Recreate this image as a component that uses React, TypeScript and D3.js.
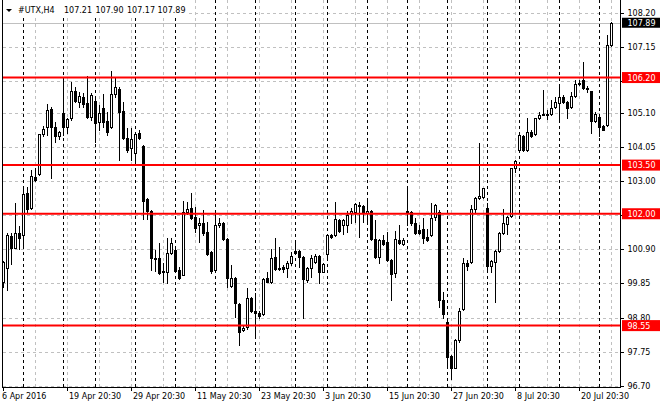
import React from 'react';
import * as d3 from 'd3';

// #UTX H4 bars, 6 Apr 2016 20:30 .. 26 Jul 2016
const opens: number[] = [
  99.90, 100.32, 101.31, 100.95, 101.40, 101.34, 102.63, 102.17, 103.12, 103.22,
  104.45, 104.66, 105.22, 104.66, 104.41, 105.10, 104.66, 104.94, 105.78, 105.45,
  105.59, 105.42, 104.99, 105.48, 104.84, 105.27, 104.86, 104.66, 105.68, 105.85,
  105.17, 104.34, 104.02, 103.86, 104.48, 104.09, 102.45, 102.08, 100.64, 100.63,
  100.23, 100.21, 100.78, 100.88, 100.26, 100.11, 102.04, 102.17, 101.90, 101.64,
  101.70, 101.44, 100.83, 100.26, 101.64, 101.70, 101.21, 99.78, 100.01, 99.21,
  98.41, 98.50, 99.39, 99.01, 98.95, 98.90, 100.01, 99.90, 100.68, 100.34,
  100.35, 100.34, 100.49, 100.85, 100.85, 100.67, 99.96, 100.32, 100.52, 100.70,
  100.21, 100.75, 101.34, 101.33, 101.81, 101.65, 101.65, 102.03, 102.06, 102.27,
  102.24, 102.03, 102.09, 101.21, 100.67, 101.19, 101.14, 100.57, 100.16, 101.19,
  101.07, 102.08, 102.06, 101.70, 101.50, 101.52, 101.29, 101.34, 101.91, 102.06,
  99.34, 98.67, 97.61, 97.25, 98.11, 99.05, 100.47, 100.52, 102.14, 102.48,
  102.52, 102.17, 100.40, 100.50, 100.85, 101.40, 101.67, 101.94, 103.40, 103.97,
  104.40, 103.97, 104.53, 104.45, 104.94, 105.08, 105.08, 105.07, 105.28, 105.40,
  105.59, 105.44, 105.30, 105.63, 106.04, 106.12, 105.89, 105.78, 104.86, 104.99,
  104.70, 104.73, 107.21,
];
const highs: number[] = [
  100.55, 101.40, 101.40, 102.34, 101.62, 102.78, 102.83, 103.35, 103.40, 104.47,
  104.70, 105.37, 105.30, 104.84, 104.56, 106.18, 104.95, 106.07, 105.92, 105.76,
  105.71, 106.25, 105.71, 105.56, 105.35, 105.69, 105.15, 106.41, 106.18, 105.92,
  105.45, 104.63, 104.63, 104.53, 104.58, 104.12, 102.50, 102.10, 100.88, 101.09,
  100.47, 101.24, 101.24, 100.92, 100.37, 102.40, 102.36, 102.63, 102.20, 101.86,
  102.12, 101.75, 100.86, 102.01, 101.86, 101.75, 101.25, 100.42, 100.05, 99.25,
  98.54, 99.70, 99.43, 99.55, 99.00, 100.03, 100.21, 100.90, 101.24, 100.98,
  100.42, 100.55, 100.83, 101.14, 100.88, 100.70, 100.37, 100.73, 100.76, 100.74,
  100.49, 101.36, 101.37, 102.37, 101.83, 101.85, 102.09, 102.17, 102.32, 102.37,
  102.27, 102.42, 102.11, 101.81, 101.22, 101.34, 101.45, 100.60, 101.47, 101.65,
  101.24, 102.83, 102.08, 101.86, 101.65, 101.86, 101.52, 102.32, 102.29, 102.10,
  99.59, 98.70, 97.64, 98.13, 99.08, 100.63, 100.57, 102.27, 102.53, 104.17,
  102.80, 102.32, 100.58, 100.88, 101.44, 102.14, 101.93, 103.42, 103.66, 104.45,
  104.43, 104.94, 104.58, 104.96, 105.15, 105.82, 105.20, 105.51, 105.61, 105.92,
  105.66, 105.47, 105.76, 106.12, 106.12, 106.69, 105.95, 105.80, 105.15, 105.02,
  104.74, 107.51, 107.90,
];
const lows: number[] = [
  99.75, 99.65, 100.45, 100.93, 100.91, 101.03, 102.06, 102.15, 103.00, 103.20,
  104.40, 104.43, 103.09, 104.22, 104.32, 104.43, 104.48, 104.90, 105.45, 105.30,
  105.28, 104.94, 104.89, 104.20, 104.58, 104.68, 104.43, 104.65, 105.61, 103.66,
  104.32, 103.91, 103.66, 103.50, 104.30, 101.84, 101.84, 100.26, 100.24, 100.15,
  99.90, 99.85, 100.75, 100.20, 100.00, 100.10, 101.99, 101.85, 101.44, 101.14,
  101.34, 100.73, 100.18, 100.20, 101.60, 101.18, 99.75, 99.75, 98.82, 97.95,
  98.37, 98.46, 98.97, 98.21, 98.80, 98.87, 99.89, 99.85, 100.26, 100.27,
  100.21, 100.06, 100.42, 100.78, 100.37, 98.77, 99.90, 100.06, 100.48, 99.87,
  100.20, 100.67, 101.26, 101.30, 101.43, 101.37, 101.45, 101.70, 101.75, 101.29,
  101.75, 101.75, 101.19, 100.65, 100.49, 101.03, 100.54, 99.34, 100.06, 101.06,
  101.03, 101.65, 101.65, 101.38, 101.38, 101.11, 101.16, 101.31, 101.81, 99.13,
  98.77, 97.34, 96.89, 97.24, 98.05, 99.02, 100.26, 100.49, 102.06, 102.46,
  102.49, 100.26, 100.19, 99.29, 100.81, 101.37, 101.37, 101.91, 103.30, 103.93,
  103.93, 103.93, 104.38, 104.43, 104.92, 105.03, 104.92, 105.04, 105.25, 104.89,
  105.40, 104.96, 105.27, 105.61, 105.97, 105.84, 105.74, 104.48, 104.84, 104.41,
  104.57, 104.70, 107.17,
];
const closes: number[] = [
  100.52, 101.34, 100.93, 101.40, 101.26, 102.61, 102.15, 103.16, 103.04, 104.45,
  104.60, 105.20, 104.66, 104.41, 104.51, 104.66, 104.92, 105.78, 105.49, 105.63,
  105.37, 104.99, 105.66, 104.81, 105.10, 104.84, 104.53, 105.69, 105.90, 105.15,
  104.34, 103.96, 104.30, 104.45, 104.34, 102.39, 102.08, 100.63, 100.59, 100.18,
  100.20, 100.78, 101.09, 100.24, 100.03, 102.06, 102.14, 101.88, 101.56, 101.71,
  101.41, 100.76, 100.22, 101.65, 101.72, 101.21, 100.01, 100.01, 99.24, 98.36,
  98.49, 99.39, 99.01, 98.95, 98.85, 99.99, 99.90, 100.63, 100.29, 100.31,
  100.31, 100.49, 100.70, 100.80, 100.67, 99.98, 100.32, 100.63, 100.70, 100.21,
  100.45, 101.34, 101.29, 101.83, 101.48, 101.81, 101.96, 102.09, 102.29, 102.24,
  102.01, 102.08, 101.21, 100.67, 101.19, 101.07, 100.57, 100.14, 101.21, 101.09,
  101.19, 102.01, 101.70, 101.41, 101.41, 101.24, 101.19, 101.86, 102.27, 99.34,
  98.91, 97.59, 97.23, 98.11, 99.00, 100.47, 100.40, 102.15, 102.48, 102.55,
  102.78, 100.40, 100.54, 100.85, 101.41, 101.70, 101.89, 103.40, 103.63, 104.43,
  103.97, 104.51, 104.41, 104.94, 105.05, 105.05, 105.05, 105.27, 105.44, 105.59,
  105.44, 105.27, 105.63, 106.00, 105.99, 105.87, 105.85, 104.86, 105.07, 104.68,
  104.58, 107.20, 107.89,
];

// bar index where each week begins (period separators)
const weekStarts: number[] = [5, 15, 23, 33, 43, 53, 63, 73, 81, 91, 101, 111, 121, 129, 139, 149];

const timeLabels: string[] = [
  '6 Apr 2016', '19 Apr 20:30', '29 Apr 20:30', '11 May 20:30', '23 May 20:30',
  '3 Jun 20:30', '15 Jun 20:30', '27 Jun 20:30', '8 Jul 20:30', '20 Jul 20:30',
];
const timeLabelBars: number[] = [0, 16, 32, 48, 64, 80, 96, 112, 128, 144];

const priceTicks: string[] = [
  '108.20', '107.15', '106.10', '105.10', '104.05', '103.00',
  '101.95', '100.90', '99.85', '98.80', '97.75', '96.70',
];

const levels: number[] = [106.2, 103.5, 102.0, 98.55];
const bid = 107.89;
const header: string[] = ['#UTX,H4', '107.21', '107.90', '107.17', '107.89'];

const W = 660;
const H = 410;
const plotRight = 620;
const plotBottom = 387;

const App = () => {
  const n = opens.length;
  const x = d3.scaleLinear().domain([0, n - 1]).range([3.5, 3.5 + 4 * (n - 1)]);
  const y = d3.scaleLinear().domain([96.7, 108.2]).range([385.6, 12.7]);
  const ry = (v: number) => Math.round(y(v));
  const gridBars = d3.range(8, n, 8);
  // tick texts sitting under a level label are covered, only the grid line stays
  const covered = (t: string) => levels.some((l) => Math.abs(y(l) - y(+t)) < 6);

  return (
    <svg
      width={W}
      height={H}
      style={{ position: 'absolute', left: 0, top: 0, background: '#fff' }}
      fontFamily="'DejaVu Sans', Tahoma, sans-serif"
      fontSize={8}
    >
      <rect width={W} height={H} fill="#fff" />

      {/* grid */}
      <g stroke="#c0c0c0" strokeDasharray="3,3" strokeWidth={1}>
        {priceTicks.map((t) => (
          <line key={t} x1={3} x2={plotRight} y1={ry(+t) + 0.5} y2={ry(+t) + 0.5} />
        ))}
        {gridBars.map((b) => (
          <line key={b} x1={x(b)} x2={x(b)} y1={0} y2={plotBottom} />
        ))}
      </g>
      <g stroke="#000" strokeDasharray="3,3" strokeWidth={1}>
        {weekStarts.map((b) => (
          <line key={b} x1={x(b)} x2={x(b)} y1={0} y2={plotBottom} />
        ))}
      </g>

      {/* bid line */}
      <line x1={3} x2={plotRight} y1={ry(bid) + 0.5} y2={ry(bid) + 0.5} stroke="#c0c0c0" />

      {/* candles */}
      <g>
        {opens.map((o, i) => {
          const c = closes[i];
          const cx = x(i);
          const top = ry(Math.max(o, c));
          const bot = ry(Math.min(o, c));
          const up = c > o;
          return (
            <g key={i}>
              <line x1={cx} x2={cx} y1={ry(highs[i])} y2={ry(lows[i]) + 1} stroke="#000" />
              {up && bot - top >= 2 ? (
                <rect x={cx - 1} y={top + 0.5} width={2} height={bot - top} fill="#fff" stroke="#000" />
              ) : (
                <rect x={cx - 1.5} y={top} width={3} height={Math.max(1, bot - top + 1)} fill="#000" />
              )}
            </g>
          );
        })}
      </g>

      {/* horizontal levels */}
      <g>
        {levels.map((l) => (
          <line key={l} x1={2} x2={plotRight} y1={y(l)} y2={y(l)} stroke="#ff0000" strokeWidth={2} />
        ))}
      </g>

      {/* header */}
      <rect x={3} y={0} width={186} height={15} fill="#fff" />
      <polygon points="6,9 12,9 9,12" fill="#000" />
      {header.map((h, k) => (
        <text key={k} x={[18, 64, 95.5, 127, 157.5][k]} y={13} fill="#000">
          {h}
        </text>
      ))}

      {/* frame */}
      <g stroke="#000" strokeWidth={1}>
        <line x1={2.5} x2={2.5} y1={0} y2={plotBottom + 1} />
        <line x1={plotRight + 0.5} x2={plotRight + 0.5} y1={0} y2={plotBottom + 1} />
        <line x1={2} x2={plotRight + 1} y1={plotBottom + 0.5} y2={plotBottom + 0.5} />
      </g>

      {/* price axis */}
      <g>
        {priceTicks.map((t) => (
          <g key={t}>
            <line x1={plotRight} x2={plotRight + 4} y1={ry(+t) + 0.5} y2={ry(+t) + 0.5} stroke="#000" />
            {!covered(t) && (
              <text x={627.5} y={y(+t) + 3} fill="#000">{t}</text>
            )}
          </g>
        ))}
        {levels.map((l) => (
          <g key={l}>
            <rect x={622} y={y(l) - 5.5} width={38} height={11} fill="#ff0000" />
            <text x={627.5} y={y(l) + 3} fill="#fff">{l.toFixed(2)}</text>
          </g>
        ))}
        <rect x={622} y={y(bid) - 5} width={38} height={10} fill="#000" />
        <text x={627.5} y={y(bid) + 3} fill="#fff">{bid.toFixed(2)}</text>
      </g>

      {/* time axis */}
      <g>
        {timeLabels.map((t, k) => {
          const tx = x(timeLabelBars[k]);
          return (
            <g key={t}>
              <line x1={tx} x2={tx} y1={plotBottom} y2={plotBottom + 4} stroke="#000" />
              <text x={k === 0 ? 2 : tx + 1.5} y={398.5} fill="#000">{t}</text>
            </g>
          );
        })}
      </g>
    </svg>
  );
};

export default App;
